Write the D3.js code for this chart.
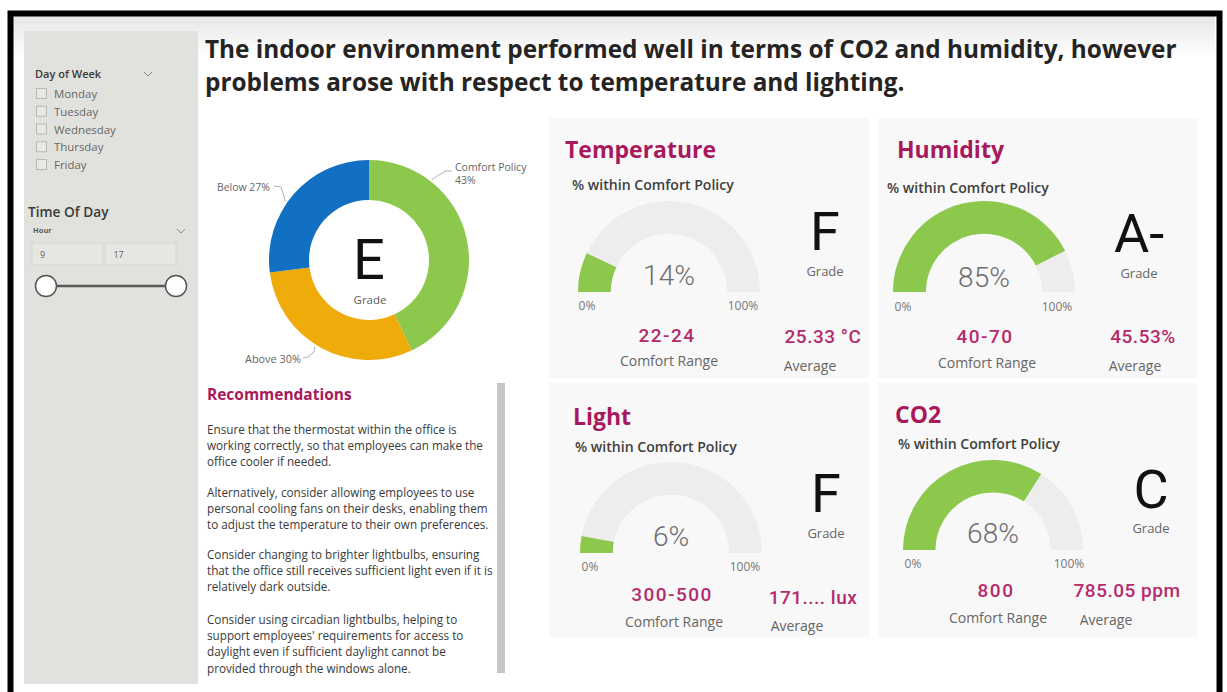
<!DOCTYPE html>
<html>
<head>
<meta charset="utf-8">
<script src="https://cdn.jsdelivr.net/npm/d3@7/dist/d3.min.js"></script>
<style>
  html, body { margin: 0; padding: 0; background: #ffffff; }
  svg { display: block; }
</style>
</head>
<body>
<svg id="chart" width="1227" height="692"></svg>
<script>
// ---------------- DATA ----------------
const titleLines = [
  "The indoor environment performed well in terms of CO2 and humidity, however",
  "problems arose with respect to temperature and lighting."
];
const weekdays = ["Monday", "Tuesday", "Wednesday", "Thursday", "Friday"];
const hourRange = [9, 17];

const donutCategories = ["Comfort Policy", "Above", "Below"];
const donutValues = [43, 30, 27];
const overallGrade = "E";

const metricNames = ["Temperature", "Humidity", "Light", "CO2"];
const pctWithinPolicy = [14, 85, 6, 68];
const metricGrades = ["F", "A-", "F", "C"];
const comfortRanges = ["22-24", "40-70", "300-500", "800"];
const averageValues = ["25.33 °C", "45.53%", "171.... lux", "785.05 ppm"];
const gaugeTickLabels = ["0%", "100%"];

const recommendations = [
  ["Ensure that the thermostat within the office is",
   "working correctly, so that employees can make the",
   "office cooler if needed."],
  ["Alternatively, consider allowing employees to use",
   "personal cooling fans on their desks, enabling them",
   "to adjust the temperature to their own preferences."],
  ["Consider changing to brighter lightbulbs, ensuring",
   "that the office still receives sufficient light even if it is",
   "relatively dark outside."],
  ["Consider using circadian lightbulbs, helping to",
   "support employees' requirements for access to",
   "daylight even if sufficient daylight cannot be",
   "provided through the windows alone."]
];

// ---------------- STYLE / LAYOUT ----------------
const SANS = "'Open Sans', 'Noto Sans', sans-serif";
const NUM = "Roboto, 'DejaVu Sans', sans-serif";
const MAGENTA = "#a8185c";
const MAGENTA2 = "#b52a6c";
const donutColors = ["#8cc84b", "#efab0a", "#1170c2"];

const svg = d3.select("#chart");
const defs = svg.append("defs");
const grad = defs.append("linearGradient").attr("id", "topfade")
  .attr("x1", 0).attr("y1", 0).attr("x2", 0).attr("y2", 1);
grad.append("stop").attr("offset", "0%").attr("stop-color", "#e6e6e6");
grad.append("stop").attr("offset", "100%").attr("stop-color", "#ffffff");

svg.append("rect").attr("x", 0).attr("y", 0).attr("width", 1227).attr("height", 692).attr("fill", "#ffffff");
svg.append("rect").attr("x", 13).attr("y", 16).attr("width", 1202).attr("height", 40).attr("fill", "url(#topfade)");

// outer frame
svg.append("rect").attr("x", 10.5).attr("y", 13.5).attr("width", 1209).attr("height", 720)
  .attr("fill", "none").attr("stroke", "#000").attr("stroke-width", 6);

function fitWidth(sel, target) {
  const w = sel.node().getBBox().width;
  const fs = parseFloat(sel.attr("font-size"));
  sel.attr("font-size", (fs * target / w).toFixed(2));
  return sel;
}

// ---------------- LEFT SLICER PANEL ----------------
const panel = svg.append("g");
panel.append("rect").attr("x", 24).attr("y", 31).attr("width", 174).attr("height", 653).attr("fill", "#e1e1dd");

panel.append("text").attr("x", 35).attr("y", 78).text("Day of Week")
  .attr("font-family", SANS).attr("font-size", 11).attr("font-weight", 600).attr("fill", "#3b3a39");
function chevron(g, x, y) {
  g.append("path").attr("d", `M${x - 4},${y - 2} L${x},${y + 2} L${x + 4},${y - 2}`)
    .attr("fill", "none").attr("stroke", "#8a8886").attr("stroke-width", 1);
}
chevron(panel, 148, 74);

const rowY = d3.scalePoint().domain(weekdays).range([94, 165]);
weekdays.forEach(d => {
  panel.append("rect").attr("x", 36.5).attr("y", rowY(d) - 5.5).attr("width", 10).attr("height", 10)
    .attr("fill", "#e8e8e5").attr("stroke", "#b8b8b5").attr("stroke-width", 1);
  const t = panel.append("text").attr("x", 54).attr("y", rowY(d) + 4).text(d)
    .attr("font-family", SANS).attr("font-size", 10).attr("fill", "#6a6866");
  if (d === "Wednesday") fitWidth(t, 63);
});
{
  const fs = panel.selectAll("text").filter(function () { return d3.select(this).text() === "Wednesday"; }).attr("font-size");
  panel.selectAll("text").filter(function () { return weekdays.includes(d3.select(this).text()); }).attr("font-size", fs);
}

fitWidth(panel.append("text").attr("x", 28).attr("y", 217).text("Time Of Day")
  .attr("font-family", SANS).attr("font-size", 12.5).attr("font-weight", 600).attr("fill", "#3b3a39"), 81);
panel.append("text").attr("x", 33).attr("y", 233).text("Hour")
  .attr("font-family", SANS).attr("font-size", 7.5).attr("font-weight", 700).attr("fill", "#605e5c");
chevron(panel, 181, 231);

const boxX = d3.scaleBand().domain(hourRange.map(String)).range([32, 176]).paddingInner(0.04);
hourRange.forEach(h => {
  panel.append("rect").attr("x", boxX(String(h))).attr("y", 243).attr("width", boxX.bandwidth()).attr("height", 22)
    .attr("fill", "#e6e6e3").attr("stroke", "#d6d6d3");
  panel.append("text").attr("x", boxX(String(h)) + 8).attr("y", 258).text(h)
    .attr("font-family", SANS).attr("font-size", 9).attr("fill", "#605e5c");
});
const sliderX = d3.scaleLinear().domain(hourRange).range([46, 176]);
panel.append("line").attr("x1", sliderX(hourRange[0])).attr("x2", sliderX(hourRange[1]))
  .attr("y1", 286).attr("y2", 286).attr("stroke", "#5a5a5a").attr("stroke-width", 2.5);
hourRange.forEach(h => {
  panel.append("circle").attr("cx", sliderX(h)).attr("cy", 286).attr("r", 10.5)
    .attr("fill", "#ffffff").attr("stroke", "#555").attr("stroke-width", 1.5);
});

// ---------------- TITLE ----------------
const titleYs = [58, 91];
const titleSel = titleLines.map((t, i) => svg.append("text").attr("x", 205).attr("y", titleYs[i]).text(t)
  .attr("font-family", SANS).attr("font-size", 22).attr("font-weight", 700).attr("fill", "#252423"));
fitWidth(titleSel[0], 972);
titleSel[1].attr("font-size", titleSel[0].attr("font-size"));

// ---------------- DONUT ----------------
const dcx = 369, dcy = 260, dR = 100, dr = 60;
const pie = d3.pie().sort(null).value(d => d)(donutValues);
const arcGen = d3.arc().innerRadius(dr).outerRadius(dR);
const donut = svg.append("g").attr("transform", `translate(${dcx},${dcy})`);
donut.selectAll("path").data(pie).enter().append("path")
  .attr("d", arcGen).attr("fill", (d, i) => donutColors[i]);
donut.append("text").attr("x", 0).attr("y", 19).attr("text-anchor", "middle").text(overallGrade)
  .attr("font-family", NUM).attr("font-size", 56).attr("fill", "#111");
donut.append("text").attr("x", 1).attr("y", 44).attr("text-anchor", "middle").text("Grade")
  .attr("font-family", SANS).attr("font-size", 11.5).attr("fill", "#605e5c");

// donut data labels with leader lines
const labelAngles = [38, 212, 305];           // degrees, clockwise from top
const labelSpec = [
  { lines: [donutCategories[0], donutValues[0] + "%"], x: 455, y: 171, fitW: 72 },
  { lines: [donutCategories[1] + " " + donutValues[1] + "%"], x: 245, y: 363, fitW: 56 },
  { lines: [donutCategories[2] + " " + donutValues[2] + "%"], x: 217, y: 191, fitW: 53 }
];
const labelG = svg.append("g");
labelSpec.forEach((s, i) => {
  const a = labelAngles[i] * Math.PI / 180;
  const px = dcx + (dR + 2) * Math.sin(a), py = dcy - (dR + 2) * Math.cos(a);
  let pts;
  if (i === 0) pts = [[px, py], [437, 176], [446, 171], [452, 171]];
  else if (i === 1) pts = [[px, py], [314, 352], [308, 357], [303, 358]];
  else pts = [[px, py], [281, 187], [274, 186]];
  labelG.append("path").attr("d", d3.line()(pts)).attr("fill", "none").attr("stroke", "#9a9a9a").attr("stroke-width", 0.8);
  s.lines.forEach((l, j) => {
    const t = labelG.append("text").attr("x", s.x).attr("y", s.y + j * 13).text(l)
      .attr("font-family", SANS).attr("font-size", 9).attr("fill", "#666");
    if (j === 0) fitWidth(t, s.fitW);
    else t.attr("font-size", labelG.select("text").attr("font-size"));
  });
});

// ---------------- RECOMMENDATIONS ----------------
fitWidth(svg.append("text").attr("x", 207).attr("y", 400).text("Recommendations")
  .attr("font-family", SANS).attr("font-size", 13.5).attr("font-weight", 700).attr("fill", MAGENTA), 145);
svg.append("rect").attr("x", 497).attr("y", 383).attr("width", 8).attr("height", 290).attr("fill", "#c6c6c6");
const paraStart = [434, 497, 559, 624];
const recSel = [];
recommendations.forEach((para, pi) => {
  para.forEach((line, li) => {
    recSel.push(svg.append("text").attr("x", 207).attr("y", paraStart[pi] + li * 16.2).text(line)
      .attr("font-family", SANS).attr("font-size", 10).attr("fill", "#3a3a3a"));
  });
});
{
  const longest = recSel.find(s => s.text().startsWith("that the office"));
  fitWidth(longest, 286);
  const fs = longest.attr("font-size");
  recSel.forEach(s => s.attr("font-size", fs));
}

// ---------------- METRIC CARDS ----------------
const cards = [
  { x: 549, y: 118, w: 320, h: 260, tx: 565, ty: 158, sx: 572, sy: 190, gx: 669, gy: 292, r: 91,
    t0: 587, t100: 743, ty0: 310, pY: 285, gradeX: 825, gradeY: 250, gLY: 276,
    rangeX: 667, rangeY: 342, crY: 366, avgX: 823, avgY: 343, avLX: 810, avLY: 371 },
  { x: 878, y: 118, w: 320, h: 260, tx: 897, ty: 158, sx: 887, sy: 193, gx: 984, gy: 292, r: 91,
    t0: 903, t100: 1057, ty0: 311, pY: 287, gradeX: 1139, gradeY: 252, gLY: 278,
    rangeX: 985, rangeY: 343, crY: 368, avgX: 1143, avgY: 343, avLX: 1135, avLY: 371 },
  { x: 549, y: 383, w: 320, h: 254, tx: 573, ty: 425, sx: 575, sy: 452, gx: 671, gy: 553, r: 91,
    t0: 590, t100: 745, ty0: 571, pY: 546, gradeX: 826, gradeY: 512, gLY: 538,
    rangeX: 672, rangeY: 601, crY: 627, avgX: 813, avgY: 604, avLX: 797, avLY: 631 },
  { x: 878, y: 383, w: 320, h: 254, tx: 895, ty: 423, sx: 898, sy: 449, gx: 993, gy: 550, r: 90,
    t0: 913, t100: 1069, ty0: 568, pY: 543, gradeX: 1151, gradeY: 508, gLY: 533,
    rangeX: 996, rangeY: 597, crY: 623, avgX: 1127, avgY: 597, avLX: 1106, avLY: 625 }
];

const gaugeAngle = d3.scaleLinear().domain([0, 100]).range([-Math.PI / 2, Math.PI / 2]);

metricNames.forEach((name, i) => {
  const c = cards[i];
  const g = svg.append("g");
  g.append("rect").attr("x", c.x).attr("y", c.y).attr("width", c.w).attr("height", c.h).attr("fill", "#f8f8f8");
  g.append("text").attr("x", c.tx).attr("y", c.ty).text(name)
    .attr("font-family", SANS).attr("font-size", 23).attr("font-weight", 700).attr("fill", MAGENTA);
  const sub = g.append("text").attr("x", c.sx).attr("y", c.sy).text("% within Comfort Policy")
    .attr("font-family", SANS).attr("font-size", 11).attr("font-weight", 600).attr("fill", "#404040");
  fitWidth(sub, 162);

  const ir = c.r * 0.64;
  const ga = d3.arc().innerRadius(ir).outerRadius(c.r);
  const gg = g.append("g").attr("transform", `translate(${c.gx},${c.gy})`);
  gg.append("path").attr("d", ga({ startAngle: gaugeAngle(0), endAngle: gaugeAngle(100) })).attr("fill", "#ededed");
  gg.append("path").attr("d", ga({ startAngle: gaugeAngle(0), endAngle: gaugeAngle(pctWithinPolicy[i]) })).attr("fill", "#8cc84b");

  g.append("text").attr("x", c.gx).attr("y", c.pY).attr("text-anchor", "middle").text(pctWithinPolicy[i] + "%")
    .attr("font-family", NUM).attr("font-weight", 300).attr("font-size", 28).attr("fill", "#6e6e6e");
  [c.t0, c.t100].forEach((tx, k) => {
    g.append("text").attr("x", tx).attr("y", c.ty0).attr("text-anchor", "middle").text(gaugeTickLabels[k])
      .attr("font-family", SANS).attr("font-size", 12).attr("fill", "#777");
  });

  g.append("text").attr("x", c.gradeX).attr("y", c.gradeY).attr("text-anchor", "middle").text(metricGrades[i])
    .attr("font-family", NUM).attr("font-size", 54).attr("fill", "#111");
  g.append("text").attr("x", c.gradeX).attr("y", c.gLY).attr("text-anchor", "middle").text("Grade")
    .attr("font-family", SANS).attr("font-size", 13).attr("fill", "#666");

  g.append("text").attr("x", c.rangeX).attr("y", c.rangeY).attr("text-anchor", "middle").text(comfortRanges[i])
    .attr("font-family", NUM).attr("font-size", 19).attr("font-weight", 500).attr("letter-spacing", 1.5).attr("fill", MAGENTA2);
  g.append("text").attr("x", c.rangeX + 2).attr("y", c.crY).attr("text-anchor", "middle").text("Comfort Range")
    .attr("font-family", SANS).attr("font-size", 14).attr("fill", "#666");
  g.append("text").attr("x", c.avgX).attr("y", c.avgY).attr("text-anchor", "middle").text(averageValues[i])
    .attr("font-family", NUM).attr("font-size", 19).attr("font-weight", 500).attr("letter-spacing", 0.5).attr("fill", MAGENTA2);
  g.append("text").attr("x", c.avLX).attr("y", c.avLY).attr("text-anchor", "middle").text("Average")
    .attr("font-family", SANS).attr("font-size", 14).attr("fill", "#666");
});
</script>
</body>
</html>
